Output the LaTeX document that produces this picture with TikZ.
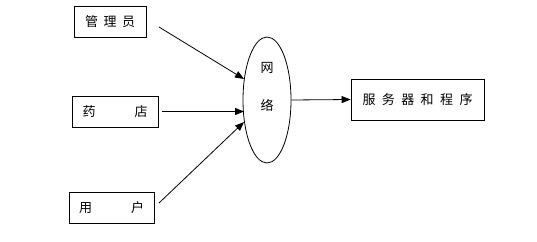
\documentclass[tikz,border=0pt]{standalone}
\usepackage{fontspec}
\newfontfamily\cjk{Noto Sans CJK SC}
\usetikzlibrary{arrows.meta,shapes.geometric}
\tikzset{
  node-box/.style={draw=black,line width=0.8pt,minimum height=31pt,inner sep=0pt,
    font=\cjk\fontsize{13}{15}\selectfont},
  node-net/.style={draw=black,line width=0.8pt,ellipse,minimum width=48pt,
    minimum height=126pt,inner sep=0pt},
  net-text/.style={font=\cjk\fontsize{13}{15}\selectfont},
  arrow/.style={-{Triangle[length=9pt,width=7pt]},line width=0.8pt,draw=black},
}

\begin{document}
\begin{tikzpicture}[x=1pt,y=-1pt]
  \useasboundingbox (0,0) rectangle (537,241);
  \node[node-box,minimum width=72pt] (admin) at (110,21.5)
    {\makebox[50pt][s]{管\hfill 理\hfill 员}};
  \node[node-box,minimum width=86pt] (shop) at (115,111.5)
    {\makebox[65pt][s]{药\hfill 店}};
  \node[node-box,minimum width=85pt] (user) at (111.5,207.5)
    {\makebox[65pt][s]{用\hfill 户}};
  \node[node-net] (net) at (267,100) {};
  \node[net-text] (netA) at (267,68) {网};
  \node[net-text] (netB) at (267,105) {络};
  \node[node-box,minimum width=133pt,minimum height=41pt] (srv) at (417.5,99.5)
    {\makebox[110pt][s]{服\hfill 务\hfill 器\hfill 和\hfill 程\hfill 序}};
  % free ends of the incoming arrows
  \coordinate (adminE) at (159,27);
  \coordinate (shopE) at (162,111.5);
  \coordinate (userE) at (159,203);
  \coordinate (netA-in) at (244,79);
  \coordinate (netB-in) at (244,111.5);
  \coordinate (netC-in) at (244,122);
  \draw[arrow] (adminE) -- (netA-in);
  \draw[arrow] (shopE) -- (netB-in);
  \draw[arrow] (userE) -- (netC-in);
  \draw[arrow] (net.east) -- (srv.west);
\end{tikzpicture}
\end{document}
